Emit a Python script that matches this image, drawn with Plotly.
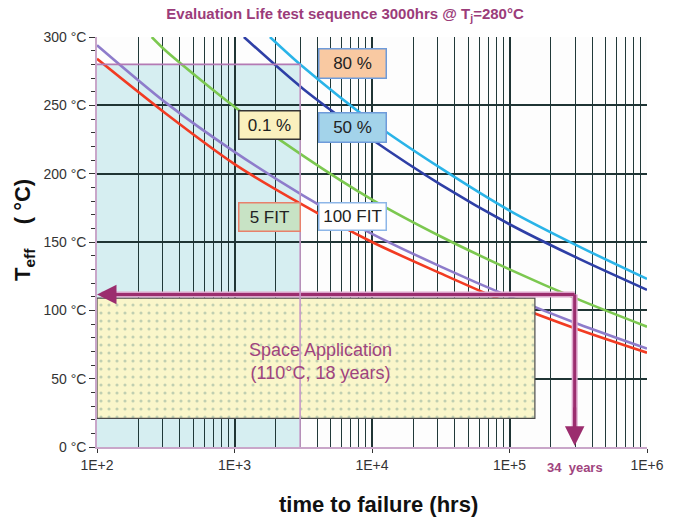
import math
import plotly.graph_objects as go

# ---------------- data ----------------
hours_a = [100, 316, 1000, 3162, 10000, 31623, 100000, 316228, 1000000]
T_5fit = [284, 244, 207, 177, 150, 127, 105, 86, 69]
T_100fit = [294, 252, 216, 184, 156, 132, 110, 90, 72]

hours_01 = [250, 316, 1000, 3162, 10000, 31623, 100000, 316228, 1000000]
T_01 = [300, 290, 249, 213, 181, 154, 130, 108, 88]

hours_50 = [1170, 3162, 10000, 31623, 100000, 316228, 1000000]
T_50 = [300, 262, 225, 192, 163, 138, 115]

hours_80 = [1810, 3162, 10000, 31623, 100000, 316228, 1000000]
T_80 = [300, 278, 238, 204, 173, 147, 123]

test_hours = 3000          # evaluation life test duration
test_temp = 280            # Tj
space_temp = 110           # space application temperature
space_box_hours = 153000   # right edge of space-application box
space_box_tlow = 21
space_box_thigh = 109
years34_hours = 34 * 8760

x_tickvals = [1e2, 1e3, 1e4, 1e5, 1e6]
x_ticktext = ["1E+2", "1E+3", "1E+4", "1E+5", "1E+6"]
y_tickvals = [0, 50, 100, 150, 200, 250, 300]
y_ticktext = [f"{v} °C" for v in y_tickvals]

NARROW = "Liberation Sans Narrow, Arial Narrow, Liberation Sans, Arial, sans-serif"
SANS = "Liberation Sans, Arial, sans-serif"
MAGENTA = "#9B2D6E"

fig = go.Figure()

curves = [
    (hours_80, T_80, "#2AB4E8", "80 %"),
    (hours_50, T_50, "#2E3FA6", "50 %"),
    (hours_01, T_01, "#7CC850", "0.1 %"),
    (hours_a, T_100fit, "#8E7CCB", "100 FIT"),
    (hours_a, T_5fit, "#F23B22", "5 FIT"),
]
for xs, ys, col, name in curves:
    fig.add_trace(go.Scatter(x=xs, y=ys, mode="lines", name=name,
                             line=dict(color=col, width=2.6, shape="spline", smoothing=0.8),
                             showlegend=False, hoverinfo="skip"))

# Space application box (dotted)
fig.add_trace(go.Scatter(
    x=[100, space_box_hours, space_box_hours, 100, 100],
    y=[space_box_tlow, space_box_tlow, space_box_thigh, space_box_thigh, space_box_tlow],
    mode="lines", fill="toself",
    fillcolor="#FAF6CA",
    fillpattern=dict(shape=".", bgcolor="#FAF6CA", fgcolor="#86A898", size=8, solidity=0.12),
    line=dict(color="#4A4A4A", width=1.2),
    showlegend=False, hoverinfo="skip"))

# Arrow lines (halo + core)
for w, c in [(6, "#DDA6CC"), (3, MAGENTA)]:
    fig.add_trace(go.Scatter(x=[years34_hours, 108], y=[space_temp + 1.5, space_temp + 1.5],
                             mode="lines", line=dict(color=c, width=w),
                             showlegend=False, hoverinfo="skip"))
    fig.add_trace(go.Scatter(x=[years34_hours, years34_hours], y=[space_temp + 1.5, 6],
                             mode="lines", line=dict(color=c, width=w),
                             showlegend=False, hoverinfo="skip"))

# arrowheads
fig.add_annotation(x=math.log10(100), y=space_temp + 1.5, ax=math.log10(300), ay=space_temp + 1.5,
                   xref="x", yref="y", axref="x", ayref="y", text="", showarrow=True,
                   arrowhead=2, arrowsize=1.3, arrowwidth=3, arrowcolor=MAGENTA)
fig.add_annotation(x=math.log10(years34_hours), y=1, ax=math.log10(years34_hours), ay=30,
                   xref="x", yref="y", axref="x", ayref="y", text="", showarrow=True,
                   arrowhead=2, arrowsize=1.3, arrowwidth=3, arrowcolor=MAGENTA)

# shaded test region (below grid)
fig.add_shape(type="rect", xref="x", yref="y", x0=100, x1=test_hours, y0=0, y1=test_temp,
              fillcolor="#D6EEF1", line=dict(width=0), layer="below")
fig.add_shape(type="line", xref="x", yref="y", x0=100, x1=test_hours, y0=test_temp, y1=test_temp,
              line=dict(color="#B47AB4", width=1.6), layer="above")
fig.add_shape(type="line", xref="x", yref="y", x0=test_hours, x1=test_hours, y0=0, y1=test_temp,
              line=dict(color="#C79AC8", width=1.6), layer="above")

# ---------------- labels ----------------
def px(xp, yp):
    return (xp - 97) / 550.0, (447 - yp) / 410.0

def box_label(text, cx, cy, bg, border, w, h):
    x, y = px(cx, cy)
    fig.add_annotation(x=x, y=y, xref="paper", yref="paper", text=text, showarrow=False,
                       font=dict(family=SANS, size=17, color="#222222"),
                       bgcolor=bg, bordercolor=border, borderwidth=1.5, borderpad=0,
                       width=w, height=h, xanchor="center", yanchor="middle")

box_label("80 %", 352, 64, "#F9C9A2", "#6E9BDA", 66, 28)
box_label("50 %", 352, 127.5, "#A3D3EA", "#6E9BDA", 66, 28)
box_label("0.1 %", 269, 125.5, "#FAF0BE", "#333333", 60, 27)
box_label("5 FIT", 269, 217, "#C8E3C5", "#E8806C", 60, 27)
box_label("100 FIT", 352.5, 216, "#FFFFFF", "#8DB6E8", 66, 26)

x, y = px(320, 361)
fig.add_annotation(x=x, y=y, xref="paper", yref="paper", xanchor="center", yanchor="middle",
                   text="Space Application<br>(110°C, 18 years)", showarrow=False,
                   font=dict(family=SANS, size=18, color="#A0447E"), align="center")

x, y = px(24, 230)
fig.add_annotation(x=x, y=y, xref="paper", yref="paper", textangle=-90,
                   xanchor="center", yanchor="middle",
                   text="<b>T<sub>eff</sub>    ( °C)</b>", showarrow=False,
                   font=dict(family=SANS, size=22, color="#111111"))

x, y = px(378, 505)
fig.add_annotation(x=x, y=y, xref="paper", yref="paper", xanchor="center", yanchor="middle",
                   text="<b>time to failure (hrs)</b>", showarrow=False,
                   font=dict(family=NARROW, size=22, color="#111111"))

fig.add_annotation(x=math.log10(years34_hours), y=(447 - 467) / 410.0, xref="x", yref="paper",
                   xanchor="center", yanchor="middle",
                   text="<b>34  years</b>", showarrow=False,
                   font=dict(family=NARROW, size=13, color="#A0447E"))

fig.update_layout(
    width=686, height=524,
    margin=dict(l=97, r=39, t=37, b=77),
    paper_bgcolor="white", plot_bgcolor="#FDFDFD",
    title=dict(text="<b>Evaluation Life test sequence 3000hrs @ T<sub>j</sub>=280°C</b>",
               x=0.503, xanchor="center", y=0.974, yanchor="middle",
               font=dict(family=NARROW, size=15, color="#9B3C7A")),
)

fig.update_xaxes(type="log", range=[2, 6], tickvals=x_tickvals, ticktext=x_ticktext,
                 showgrid=True, gridcolor="#1F3434", gridwidth=1.6,
                 minor=dict(dtick="D1", showgrid=True, gridcolor="#203838", gridwidth=1.3,
                            ticks=""),
                 ticks="outside", ticklen=4, tickcolor="#333333",
                 showline=True, linecolor="#C9A6C9", linewidth=1.5,
                 tickfont=dict(family=NARROW, size=14, color="#333333"),
                 zeroline=False)
fig.update_yaxes(range=[0, 300], tickvals=y_tickvals, ticktext=y_ticktext,
                 showgrid=True, gridcolor="#1F3434", gridwidth=1.6,
                 minor=dict(dtick=10, ticks="outside", ticklen=4, tickcolor="#333333", showgrid=False),
                 ticks="outside", ticklen=6, tickcolor="#333333",
                 showline=True, linecolor="#C9A6C9", linewidth=1.5,
                 tickfont=dict(family=NARROW, size=14, color="#333333"),
                 zeroline=False)

fig.write_html("out.html")
